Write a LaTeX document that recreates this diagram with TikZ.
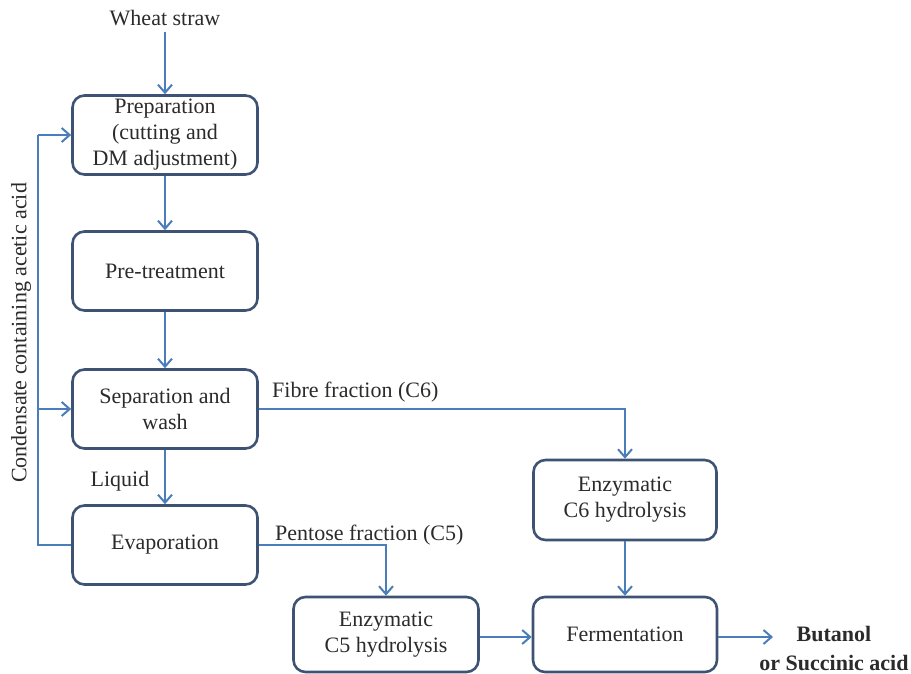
\documentclass[tikz,border=0pt]{standalone}
\usepackage{fontspec}
\setmainfont{Liberation Serif}
\usetikzlibrary{arrows.meta}
\definecolor{boxline}{HTML}{3E5373}
\definecolor{flow}{HTML}{4A7EBB}
\definecolor{txt}{HTML}{2B2B2B}
\begin{document}
\begin{tikzpicture}[x=1pt,y=-1pt,
  every node/.style={text=txt,font=\fontsize{22}{26}\selectfont},
  stepbox/.style={draw=boxline,line width=2.6pt,rounded corners=12pt,
    minimum width=185pt,minimum height=79pt,align=center,inner sep=0pt},
  flowline/.style={draw=flow,line width=2.2pt,
    -{Straight Barb[length=8pt,width=14pt,line width=2pt]}},
  plainflow/.style={draw=flow,line width=2.2pt},
  lbl/.style={inner sep=0pt}]
\useasboundingbox (0,0) rectangle (911,674);
\fill[white] (0,0) rectangle (911,674);

\node[lbl] (wheat) at (165,18) {Wheat straw};
\node[stepbox] (prep) at (165,135) {Preparation\\(cutting and\\DM adjustment)};
\node[stepbox] (pre) at (165,271) {Pre-treatment};
\node[stepbox] (sep) at (165,409) {Separation and\\wash};
\node[stepbox] (evap) at (165,545) {Evaporation};
\node[stepbox,minimum width=183pt,minimum height=80pt] (c6) at (625,500) {Enzymatic\\C6 hydrolysis};
\node[stepbox,minimum width=185pt,minimum height=75pt] (c5) at (386,634.5) {Enzymatic\\C5 hydrolysis};
\node[stepbox,minimum width=184pt,minimum height=75pt] (ferm) at (625,634.5) {Fermentation};
\node[lbl,align=center,font=\fontsize{22}{29}\selectfont\bfseries] (prod) at (834,648) {Butanol\\or Succinic acid};

\node[lbl] (liq) at (120,481) {Liquid};
\node[lbl,anchor=west] (fib) at (272,392) {Fibre fraction (C6)};
\node[lbl,anchor=west] (pent) at (275,535) {Pentose fraction (C5)};
\node[lbl,rotate=90] (cond) at (21,333) {Condensate containing acetic acid};

\coordinate (wtop) at (165,32);
\coordinate (lc) at (38,545);
\coordinate (lt) at (38,135);
\coordinate (lm) at (38,409);
\coordinate (out) at (773,637);

\draw[flowline] (wtop) -- (prep.north);
\draw[flowline] (prep.south) -- (pre.north);
\draw[flowline] (pre.south) -- (sep.north);
\draw[flowline] (sep.south) -- (evap.north);
\draw[plainflow] (evap.west) -- (lc) -- (lt);
\draw[flowline] (lt) -- (prep.west);
\draw[flowline] (lm) -- (sep.west);
\draw[flowline] (sep.east) -| (c6.north);
\draw[flowline] (evap.east) -| (c5.north);
\draw[flowline] (c6.south) -- (ferm.north);
\draw[flowline] (c5.east |- out) -- (ferm.west |- out);
\draw[flowline] (ferm.east |- out) -- (out);
\end{tikzpicture}
\end{document}
